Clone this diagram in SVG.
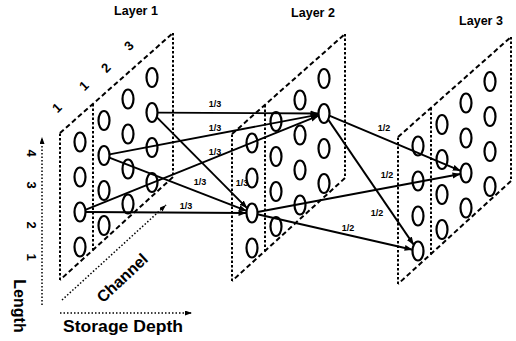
<svg xmlns="http://www.w3.org/2000/svg" width="516" height="341" viewBox="0 0 516 341">
<defs>
<style>
.dash{fill:none;stroke:#000;stroke-width:2;stroke-dasharray:5 3}
.dot{fill:none;stroke:#000;stroke-width:2;stroke-dasharray:2.5 2}
.axis{fill:none;stroke:#000;stroke-width:1.5;stroke-dasharray:1.5 2}
.n{fill:none;stroke:#000;stroke-width:2.2}
.c{fill:none;stroke:#000;stroke-width:1.9}
.t{font-family:"Liberation Sans",Arial,sans-serif;font-weight:bold;fill:#000}
.lbl{font-size:9px;text-anchor:middle}
.ttl{font-size:12.5px;text-anchor:middle}
</style>
<marker id="ah" markerUnits="userSpaceOnUse" markerWidth="9" markerHeight="7" refX="8" refY="3" orient="auto">
<path d="M0,0 L8,3 L0,6 z" fill="#000"/>
</marker>
<marker id="ax" markerUnits="userSpaceOnUse" markerWidth="8" markerHeight="6" refX="7" refY="2.5" orient="auto">
<path d="M0,0 L7,2.5 L0,5 z" fill="#000"/>
</marker>
<g id="nodes4">
<ellipse class="n" cx="80" cy="142" rx="5.5" ry="9.5"/>
<ellipse class="n" cx="80" cy="177" rx="5.5" ry="9.5"/>
<ellipse class="n" cx="80" cy="212" rx="5.5" ry="9.5"/>
<ellipse class="n" cx="80" cy="247" rx="5.5" ry="9.5"/>
<ellipse class="n" cx="104" cy="120.5" rx="5.5" ry="9.5"/>
<ellipse class="n" cx="104" cy="155.5" rx="5.5" ry="9.5"/>
<ellipse class="n" cx="104" cy="190.5" rx="5.5" ry="9.5"/>
<ellipse class="n" cx="104" cy="225.5" rx="5.5" ry="9.5"/>
<ellipse class="n" cx="128" cy="99" rx="5.5" ry="9.5"/>
<ellipse class="n" cx="128" cy="134" rx="5.5" ry="9.5"/>
<ellipse class="n" cx="128" cy="169" rx="5.5" ry="9.5"/>
<ellipse class="n" cx="128" cy="204" rx="5.5" ry="9.5"/>
<ellipse class="n" cx="152" cy="77.5" rx="5.5" ry="9.5"/>
<ellipse class="n" cx="152" cy="112.5" rx="5.5" ry="9.5"/>
<ellipse class="n" cx="152" cy="147.5" rx="5.5" ry="9.5"/>
<ellipse class="n" cx="152" cy="182.5" rx="5.5" ry="9.5"/>
</g>
<g id="plane">
<path class="dash" d="M60,133 L173,33"/>
<path class="dot" d="M173,33 L173,177"/>
<path class="dash" d="M173,177 L60,280"/>
<path class="dot" d="M60,280 L60,133"/>
<path class="dot" d="M93,104 L93,251"/>
</g>
</defs>

<g id="layer1">
<use href="#plane"/>
<use href="#nodes4"/>
<text class="t ttl" x="136" y="15">Layer 1</text>
</g>
<g id="layer2">
<use href="#plane" transform="translate(172,1)"/>
<use href="#nodes4" transform="translate(172,1)"/>
<text class="t ttl" x="313" y="17">Layer 2</text>
</g>
<g id="layer3">
<use href="#plane" transform="translate(338,4)"/>
<use href="#nodes4" transform="translate(338,4)"/>
<text class="t ttl" x="481" y="25">Layer 3</text>
</g>

<g id="connectors">
<line class="c" x1="157.5" y1="112.6" x2="318.5" y2="113.5" marker-end="url(#ah)"/>
<line class="c" x1="109.5" y1="154.4" x2="318.5" y2="114.6" marker-end="url(#ah)"/>
<line class="c" x1="85.3" y1="209.8" x2="318.7" y2="115.7" marker-end="url(#ah)"/>
<line class="c" x1="156.7" y1="117.2" x2="247.3" y2="208.3" marker-end="url(#ah)"/>
<line class="c" x1="109.3" y1="157.6" x2="246.7" y2="210.9" marker-end="url(#ah)"/>
<line class="c" x1="85.5" y1="212" x2="246.5" y2="213" marker-end="url(#ah)"/>
<line class="c" x1="329.3" y1="115.7" x2="460.7" y2="170.8" marker-end="url(#ah)"/>
<line class="c" x1="328.2" y1="119.6" x2="413.8" y2="244.9" marker-end="url(#ah)"/>
<line class="c" x1="257.5" y1="212" x2="460.5" y2="174" marker-end="url(#ah)"/>
<line class="c" x1="257.4" y1="214.3" x2="412.6" y2="249.7" marker-end="url(#ah)"/>
</g>

<g id="edge-labels">
<text class="t lbl" x="215" y="107">1/3</text>
<text class="t lbl" x="215" y="131">1/3</text>
<text class="t lbl" x="215" y="155">1/3</text>
<text class="t lbl" x="200" y="185">1/3</text>
<text class="t lbl" x="242" y="186">1/3</text>
<text class="t lbl" x="186" y="209">1/3</text>
<text class="t lbl" x="384" y="131">1/2</text>
<text class="t lbl" x="387" y="178">1/2</text>
<text class="t lbl" x="377" y="216">1/2</text>
<text class="t lbl" x="348" y="231">1/2</text>
</g>

<g id="axes">
<line class="axis" x1="42" y1="305" x2="42" y2="137" marker-end="url(#ax)"/>
<line class="axis" x1="62" y1="300" x2="166" y2="205" marker-end="url(#ax)"/>
<line class="axis" x1="60" y1="313" x2="192" y2="313" marker-end="url(#ax)"/>
<g class="t" font-size="13">
<text transform="translate(27,153) rotate(90)" text-anchor="middle">4</text>
<text transform="translate(27,185) rotate(90)" text-anchor="middle">3</text>
<text transform="translate(27,225) rotate(90)" text-anchor="middle">2</text>
<text transform="translate(27,257) rotate(90)" text-anchor="middle">1</text>
<text transform="translate(60,111) rotate(-45)" text-anchor="middle">1</text>
<text transform="translate(87,89) rotate(-45)" text-anchor="middle">1</text>
<text transform="translate(109,71) rotate(-45)" text-anchor="middle">2</text>
<text transform="translate(132,49) rotate(-45)" text-anchor="middle">3</text>
</g>
<text class="t" font-size="16" transform="translate(14,306) rotate(90)" text-anchor="middle">Length</text>
<text class="t" font-size="16" transform="translate(126,282) rotate(-43)" text-anchor="middle">Channel</text>
<text class="t" font-size="16" x="63" y="332" textLength="120" lengthAdjust="spacingAndGlyphs">Storage Depth</text>
</g>
</svg>
